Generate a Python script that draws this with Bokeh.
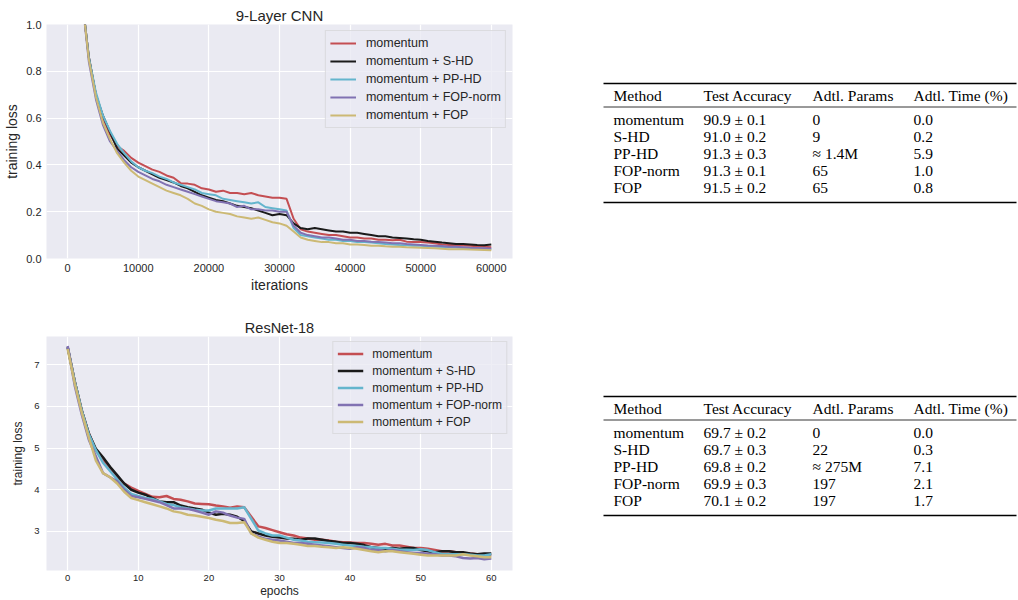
from bokeh.plotting import figure
from bokeh.layouts import row, column
from bokeh.models import Range1d, FixedTicker, Legend, LegendItem
from bokeh.embed import file_html
from bokeh.resources import INLINE
from bokeh.core.properties import value

# ---------------- data ----------------
series_names = ["momentum", "momentum + S-HD", "momentum + PP-HD",
                "momentum + FOP-norm", "momentum + FOP"]
series_colors = ["#C44E52", "#1A1A1A", "#64B5CD", "#8172B2", "#CCB974"]

cnn_iters = [2000, 3000, 4000, 5000, 6000, 7000, 8000, 9000, 10000, 11000,
             12000, 13000, 14000, 15000, 16000, 17000, 18000, 19000, 20000, 21000,
             22000, 23000, 24000, 25000, 26000, 27000, 28000, 29000, 30000, 31000,
             32000, 33000, 34000, 35000, 36000, 37000, 38000, 39000, 40000, 41000,
             42000, 43000, 44000, 45000, 46000, 47000, 48000, 49000, 50000, 51000,
             52000, 53000, 54000, 55000, 56000, 57000, 58000, 59000, 60000]

cnn_momentum = [1.12, 0.86, 0.70, 0.60, 0.53, 0.48, 0.46, 0.43, 0.41, 0.395,
                0.38, 0.37, 0.355, 0.345, 0.322, 0.32, 0.315, 0.30, 0.295, 0.285,
                0.29, 0.28, 0.28, 0.275, 0.28, 0.27, 0.265, 0.26, 0.26, 0.255,
                0.17, 0.125, 0.115, 0.11, 0.105, 0.10, 0.10, 0.095, 0.09, 0.09,
                0.085, 0.085, 0.08, 0.08, 0.078, 0.08, 0.072, 0.07, 0.07, 0.068,
                0.065, 0.06, 0.058, 0.058, 0.056, 0.055, 0.052, 0.05, 0.048]
cnn_shd = [1.12, 0.86, 0.70, 0.61, 0.54, 0.47, 0.44, 0.41, 0.39, 0.375,
           0.36, 0.345, 0.335, 0.325, 0.31, 0.30, 0.285, 0.27, 0.26, 0.25,
           0.245, 0.235, 0.225, 0.22, 0.215, 0.205, 0.195, 0.185, 0.19, 0.185,
           0.15, 0.13, 0.125, 0.13, 0.125, 0.12, 0.115, 0.115, 0.11, 0.11,
           0.105, 0.10, 0.095, 0.095, 0.09, 0.088, 0.085, 0.082, 0.08, 0.075,
           0.072, 0.068, 0.065, 0.062, 0.062, 0.06, 0.058, 0.057, 0.06]
cnn_pphd = [1.12, 0.86, 0.71, 0.61, 0.545, 0.49, 0.45, 0.415, 0.39, 0.375,
            0.365, 0.35, 0.34, 0.325, 0.315, 0.305, 0.295, 0.28, 0.275, 0.27,
            0.255, 0.25, 0.245, 0.24, 0.235, 0.24, 0.22, 0.215, 0.21, 0.205,
            0.13, 0.10, 0.095, 0.09, 0.085, 0.08, 0.08, 0.075, 0.075, 0.07,
            0.07, 0.068, 0.065, 0.062, 0.06, 0.058, 0.057, 0.055, 0.054, 0.052,
            0.05, 0.049, 0.048, 0.047, 0.045, 0.044, 0.043, 0.042, 0.04]
cnn_fopnorm = [1.12, 0.84, 0.68, 0.57, 0.50, 0.46, 0.42, 0.39, 0.37, 0.355,
               0.34, 0.33, 0.315, 0.305, 0.295, 0.285, 0.275, 0.265, 0.255, 0.245,
               0.24, 0.235, 0.22, 0.225, 0.21, 0.21, 0.205, 0.205, 0.20, 0.20,
               0.14, 0.11, 0.10, 0.095, 0.09, 0.09, 0.085, 0.08, 0.08, 0.075,
               0.075, 0.072, 0.07, 0.068, 0.065, 0.065, 0.062, 0.06, 0.058, 0.056,
               0.055, 0.053, 0.05, 0.05, 0.048, 0.046, 0.045, 0.044, 0.043]
cnn_fop = [1.12, 0.85, 0.69, 0.58, 0.51, 0.45, 0.41, 0.375, 0.35, 0.335,
           0.32, 0.305, 0.29, 0.28, 0.27, 0.255, 0.235, 0.225, 0.21, 0.20,
           0.195, 0.19, 0.18, 0.175, 0.17, 0.175, 0.165, 0.155, 0.15, 0.14,
           0.115, 0.09, 0.08, 0.075, 0.07, 0.07, 0.065, 0.065, 0.06, 0.06,
           0.058, 0.055, 0.055, 0.052, 0.05, 0.05, 0.048, 0.047, 0.046, 0.045,
           0.044, 0.042, 0.04, 0.04, 0.04, 0.038, 0.037, 0.036, 0.035]

res_epochs = [0, 1, 2, 3, 4, 5, 6, 7, 8, 9, 10, 11, 12, 13, 14, 15, 16, 17, 18, 19,
              20, 21, 22, 23, 24, 25, 26, 27, 28, 29, 30, 31, 32, 33, 34, 35, 36, 37,
              38, 39, 40, 41, 42, 43, 44, 45, 46, 47, 48, 49, 50, 51, 52, 53, 54, 55,
              56, 57, 58, 59, 60]
res_momentum = [7.42, 6.6, 5.9, 5.35, 4.95, 4.70, 4.50, 4.30, 4.15, 4.05,
                3.97, 3.90, 3.83, 3.82, 3.85, 3.78, 3.76, 3.72, 3.67, 3.66,
                3.65, 3.62, 3.60, 3.57, 3.60, 3.58, 3.35, 3.12, 3.08, 3.03,
                2.98, 2.93, 2.90, 2.85, 2.83, 2.80, 2.80, 2.78, 2.75, 2.74,
                2.73, 2.72, 2.72, 2.70, 2.68, 2.70, 2.66, 2.66, 2.63, 2.60,
                2.60, 2.58, 2.55, 2.52, 2.52, 2.50, 2.48, 2.47, 2.45, 2.44, 2.42]
res_shd = [7.42, 6.6, 5.9, 5.35, 4.98, 4.78, 4.55, 4.35, 4.15, 4.00,
           3.93, 3.88, 3.80, 3.72, 3.70, 3.70, 3.62, 3.58, 3.55, 3.52,
           3.45, 3.40, 3.42, 3.40, 3.35, 3.25, 3.00, 2.95, 2.90, 2.87,
           2.85, 2.83, 2.82, 2.80, 2.83, 2.83, 2.80, 2.77, 2.75, 2.72,
           2.72, 2.70, 2.67, 2.62, 2.60, 2.58, 2.60, 2.58, 2.60, 2.60,
           2.55, 2.52, 2.50, 2.52, 2.52, 2.50, 2.50, 2.47, 2.45, 2.47, 2.47]
res_pphd = [7.42, 6.6, 5.9, 5.33, 4.95, 4.65, 4.45, 4.25, 4.05, 3.90,
            3.85, 3.80, 3.78, 3.72, 3.66, 3.63, 3.58, 3.55, 3.52, 3.50,
            3.50, 3.55, 3.55, 3.55, 3.55, 3.58, 3.30, 3.02, 2.95, 2.90,
            2.90, 2.85, 2.80, 2.78, 2.75, 2.74, 2.73, 2.72, 2.70, 2.68,
            2.66, 2.65, 2.63, 2.62, 2.60, 2.60, 2.58, 2.56, 2.56, 2.55,
            2.57, 2.55, 2.50, 2.45, 2.45, 2.45, 2.45, 2.44, 2.42, 2.42, 2.45]
res_fopnorm = [7.45, 6.5, 5.8, 5.20, 4.80, 4.40, 4.30, 4.20, 4.00, 3.85,
               3.82, 3.78, 3.74, 3.70, 3.63, 3.55, 3.55, 3.54, 3.50, 3.45,
               3.40, 3.48, 3.45, 3.38, 3.33, 3.30, 2.95, 2.88, 2.82, 2.80,
               2.78, 2.75, 2.72, 2.72, 2.70, 2.68, 2.66, 2.64, 2.62, 2.60,
               2.58, 2.62, 2.60, 2.55, 2.55, 2.52, 2.55, 2.52, 2.50, 2.48,
               2.48, 2.46, 2.45, 2.42, 2.42, 2.40, 2.36, 2.35, 2.36, 2.33, 2.35]
res_fop = [7.38, 6.55, 5.85, 5.25, 4.70, 4.40, 4.30, 4.15, 3.95, 3.80,
           3.75, 3.70, 3.65, 3.60, 3.55, 3.48, 3.45, 3.40, 3.38, 3.35,
           3.32, 3.28, 3.25, 3.20, 3.20, 3.22, 2.95, 2.85, 2.80, 2.75,
           2.72, 2.72, 2.70, 2.68, 2.65, 2.65, 2.63, 2.62, 2.60, 2.62,
           2.60, 2.58, 2.55, 2.52, 2.50, 2.52, 2.52, 2.50, 2.48, 2.46,
           2.44, 2.42, 2.42, 2.42, 2.42, 2.42, 2.45, 2.42, 2.40, 2.38, 2.38]

cnn_xticks = [0, 10000, 20000, 30000, 40000, 50000, 60000]
cnn_yticks = [0.0, 0.2, 0.4, 0.6, 0.8, 1.0]
cnn_ytick_labels = ["0.0", "0.2", "0.4", "0.6", "0.8", "1.0"]
res_xticks = [0, 10, 20, 30, 40, 50, 60]
res_yticks = [3, 4, 5, 6, 7]

table_header = ["Method", "Test Accuracy", "Adtl. Params", "Adtl. Time (%)"]
table_methods = ["momentum", "S-HD", "PP-HD", "FOP-norm", "FOP"]
cnn_acc = ["90.9 ± 0.1", "91.0 ± 0.2", "91.3 ± 0.3", "91.3 ± 0.1", "91.5 ± 0.2"]
cnn_params = ["0", "9", "≈ 1.4M", "65", "65"]
cnn_time = ["0.0", "0.2", "5.9", "1.0", "0.8"]
res_acc = ["69.7 ± 0.2", "69.7 ± 0.3", "69.8 ± 0.2", "69.9 ± 0.3", "70.1 ± 0.2"]
res_params = ["0", "22", "≈ 275M", "197", "197"]
res_time = ["0.0", "0.3", "7.1", "2.1", "1.7"]

SANS = "Liberation Sans"
SERIF = "Liberation Serif"
TXT = "#262626"
BG = "#EAEAF2"


def style_chart(p, tick_size, label_size, title_size):
    p.background_fill_color = BG
    p.border_fill_color = "white"
    p.outline_line_color = None
    p.title.text_font = SANS
    p.title.text_font_style = "normal"
    p.title.text_font_size = title_size
    p.title.text_color = TXT
    p.title.align = "center"
    p.title.standoff = 2
    for ax in (p.xaxis[0], p.yaxis[0]):
        ax.axis_line_color = None
        ax.major_tick_line_color = None
        ax.minor_tick_line_color = None
        ax.major_tick_out = 0
        ax.major_tick_in = 0
        ax.minor_tick_out = 0
        ax.minor_tick_in = 0
        ax.major_label_text_font = SANS
        ax.major_label_text_font_size = tick_size
        ax.major_label_text_color = TXT
        ax.axis_label_text_font = SANS
        ax.axis_label_text_font_size = label_size
        ax.axis_label_text_font_style = "normal"
        ax.axis_label_text_color = TXT
    p.grid.grid_line_color = "white"
    p.grid.grid_line_width = 1.2


def add_legend(p, renderers, text_size, margin, label_standoff, label_height):
    items = [LegendItem(label=n, renderers=[r]) for n, r in zip(series_names, renderers)]
    leg = Legend(items=items, location="top_right", margin=margin,
                 padding=4, spacing=2, glyph_width=26, glyph_height=label_height,
                 label_height=label_height, label_standoff=label_standoff,
                 label_text_font=SANS, label_text_font_size=text_size,
                 label_text_color=TXT, background_fill_color=BG,
                 background_fill_alpha=0.8, border_line_color="#CCCCCC",
                 border_line_width=1)
    p.add_layout(leg, "center")


# ---------------- chart 1 ----------------
p1 = figure(width=540, height=300, x_range=Range1d(-3000, 63000), y_range=Range1d(0, 1),
            output_backend="svg", toolbar_location=None, title="9-Layer CNN",
            min_border_left=46, min_border_right=28, min_border_top=24, min_border_bottom=42)
style_chart(p1, "11px", "14px", "15px")
p1.xaxis.axis_label = "iterations"
p1.yaxis.axis_label = "training loss"
p1.xaxis.ticker = FixedTicker(ticks=cnn_xticks)
p1.yaxis.ticker = FixedTicker(ticks=cnn_yticks)
p1.yaxis.major_label_overrides = {t: l for t, l in zip(cnn_yticks, cnn_ytick_labels)}
p1.xaxis.major_label_standoff = 5
p1.xaxis.axis_label_standoff = 2
p1.yaxis.major_label_standoff = 5
p1.yaxis.axis_label_standoff = 3

r1 = []
for ys, c in zip([cnn_momentum, cnn_shd, cnn_pphd, cnn_fopnorm, cnn_fop], series_colors):
    r1.append(p1.line(cnn_iters, ys, line_color=c, line_width=2))
add_legend(p1, r1, "12.5px", 6, 10, 16)

# ---------------- chart 2 ----------------
p2 = figure(width=540, height=300, x_range=Range1d(-3, 63), y_range=Range1d(2.06, 7.68),
            output_backend="svg", toolbar_location=None, title="ResNet-18",
            min_border_left=46, min_border_right=28, min_border_top=36, min_border_bottom=28)
style_chart(p2, "9.5px", "12px", "14.5px")
p2.xaxis.axis_label = "epochs"
p2.yaxis.axis_label = "training loss"
p2.xaxis.ticker = FixedTicker(ticks=res_xticks)
p2.yaxis.ticker = FixedTicker(ticks=res_yticks)
p2.xaxis.major_label_standoff = 4
p2.xaxis.axis_label_standoff = 0
p2.yaxis.major_label_standoff = 7
p2.yaxis.axis_label_standoff = 6

r2 = []
for ys, c in zip([res_momentum, res_shd, res_pphd, res_fopnorm, res_fop], series_colors):
    r2.append(p2.line(res_epochs, ys, line_color=c, line_width=2.5))
add_legend(p2, r2, "12px", 5, 9, 15)

# ---------------- tables ----------------
TW, TH = 478, 600
pt = figure(width=TW, height=TH, x_range=Range1d(0, TW), y_range=Range1d(TH, 0),
            output_backend="svg", toolbar_location=None, min_border=0)
pt.axis.visible = False
pt.grid.visible = False
pt.outline_line_color = None
pt.background_fill_color = "white"
pt.border_fill_color = "white"

col_x = [73, 163, 272, 373]
rule_x0, rule_x1 = 63, 476
row_step = 17


def draw_table(top, accs, params, times):
    pt.segment(x0=[rule_x0, rule_x0], y0=[top, top + 119], x1=[rule_x1, rule_x1],
               y1=[top, top + 119], line_color="black", line_width=1.4)
    pt.segment(x0=[rule_x0], y0=[top + 23.5], x1=[rule_x1], y1=[top + 23.5],
               line_color="black", line_width=0.8)
    pt.text(x=col_x, y=[top + 11.5] * 4, text=table_header,
            text_font=value(SERIF), text_font_size="15.5px", text_color="black",
            text_baseline="middle", text_align="left")
    ys = [top + 36 + i * row_step for i in range(len(table_methods))]
    for cx, col in zip(col_x, [table_methods, accs, params, times]):
        pt.text(x=[cx] * len(col), y=ys, text=col,
                text_font=value(SERIF), text_font_size="15.5px", text_color="black",
                text_baseline="middle", text_align="left")


draw_table(83, cnn_acc, cnn_params, cnn_time)
draw_table(396, res_acc, res_params, res_time)

layout = row(column(p1, p2), pt)
open("out.html", "w").write(file_html(layout, INLINE))
